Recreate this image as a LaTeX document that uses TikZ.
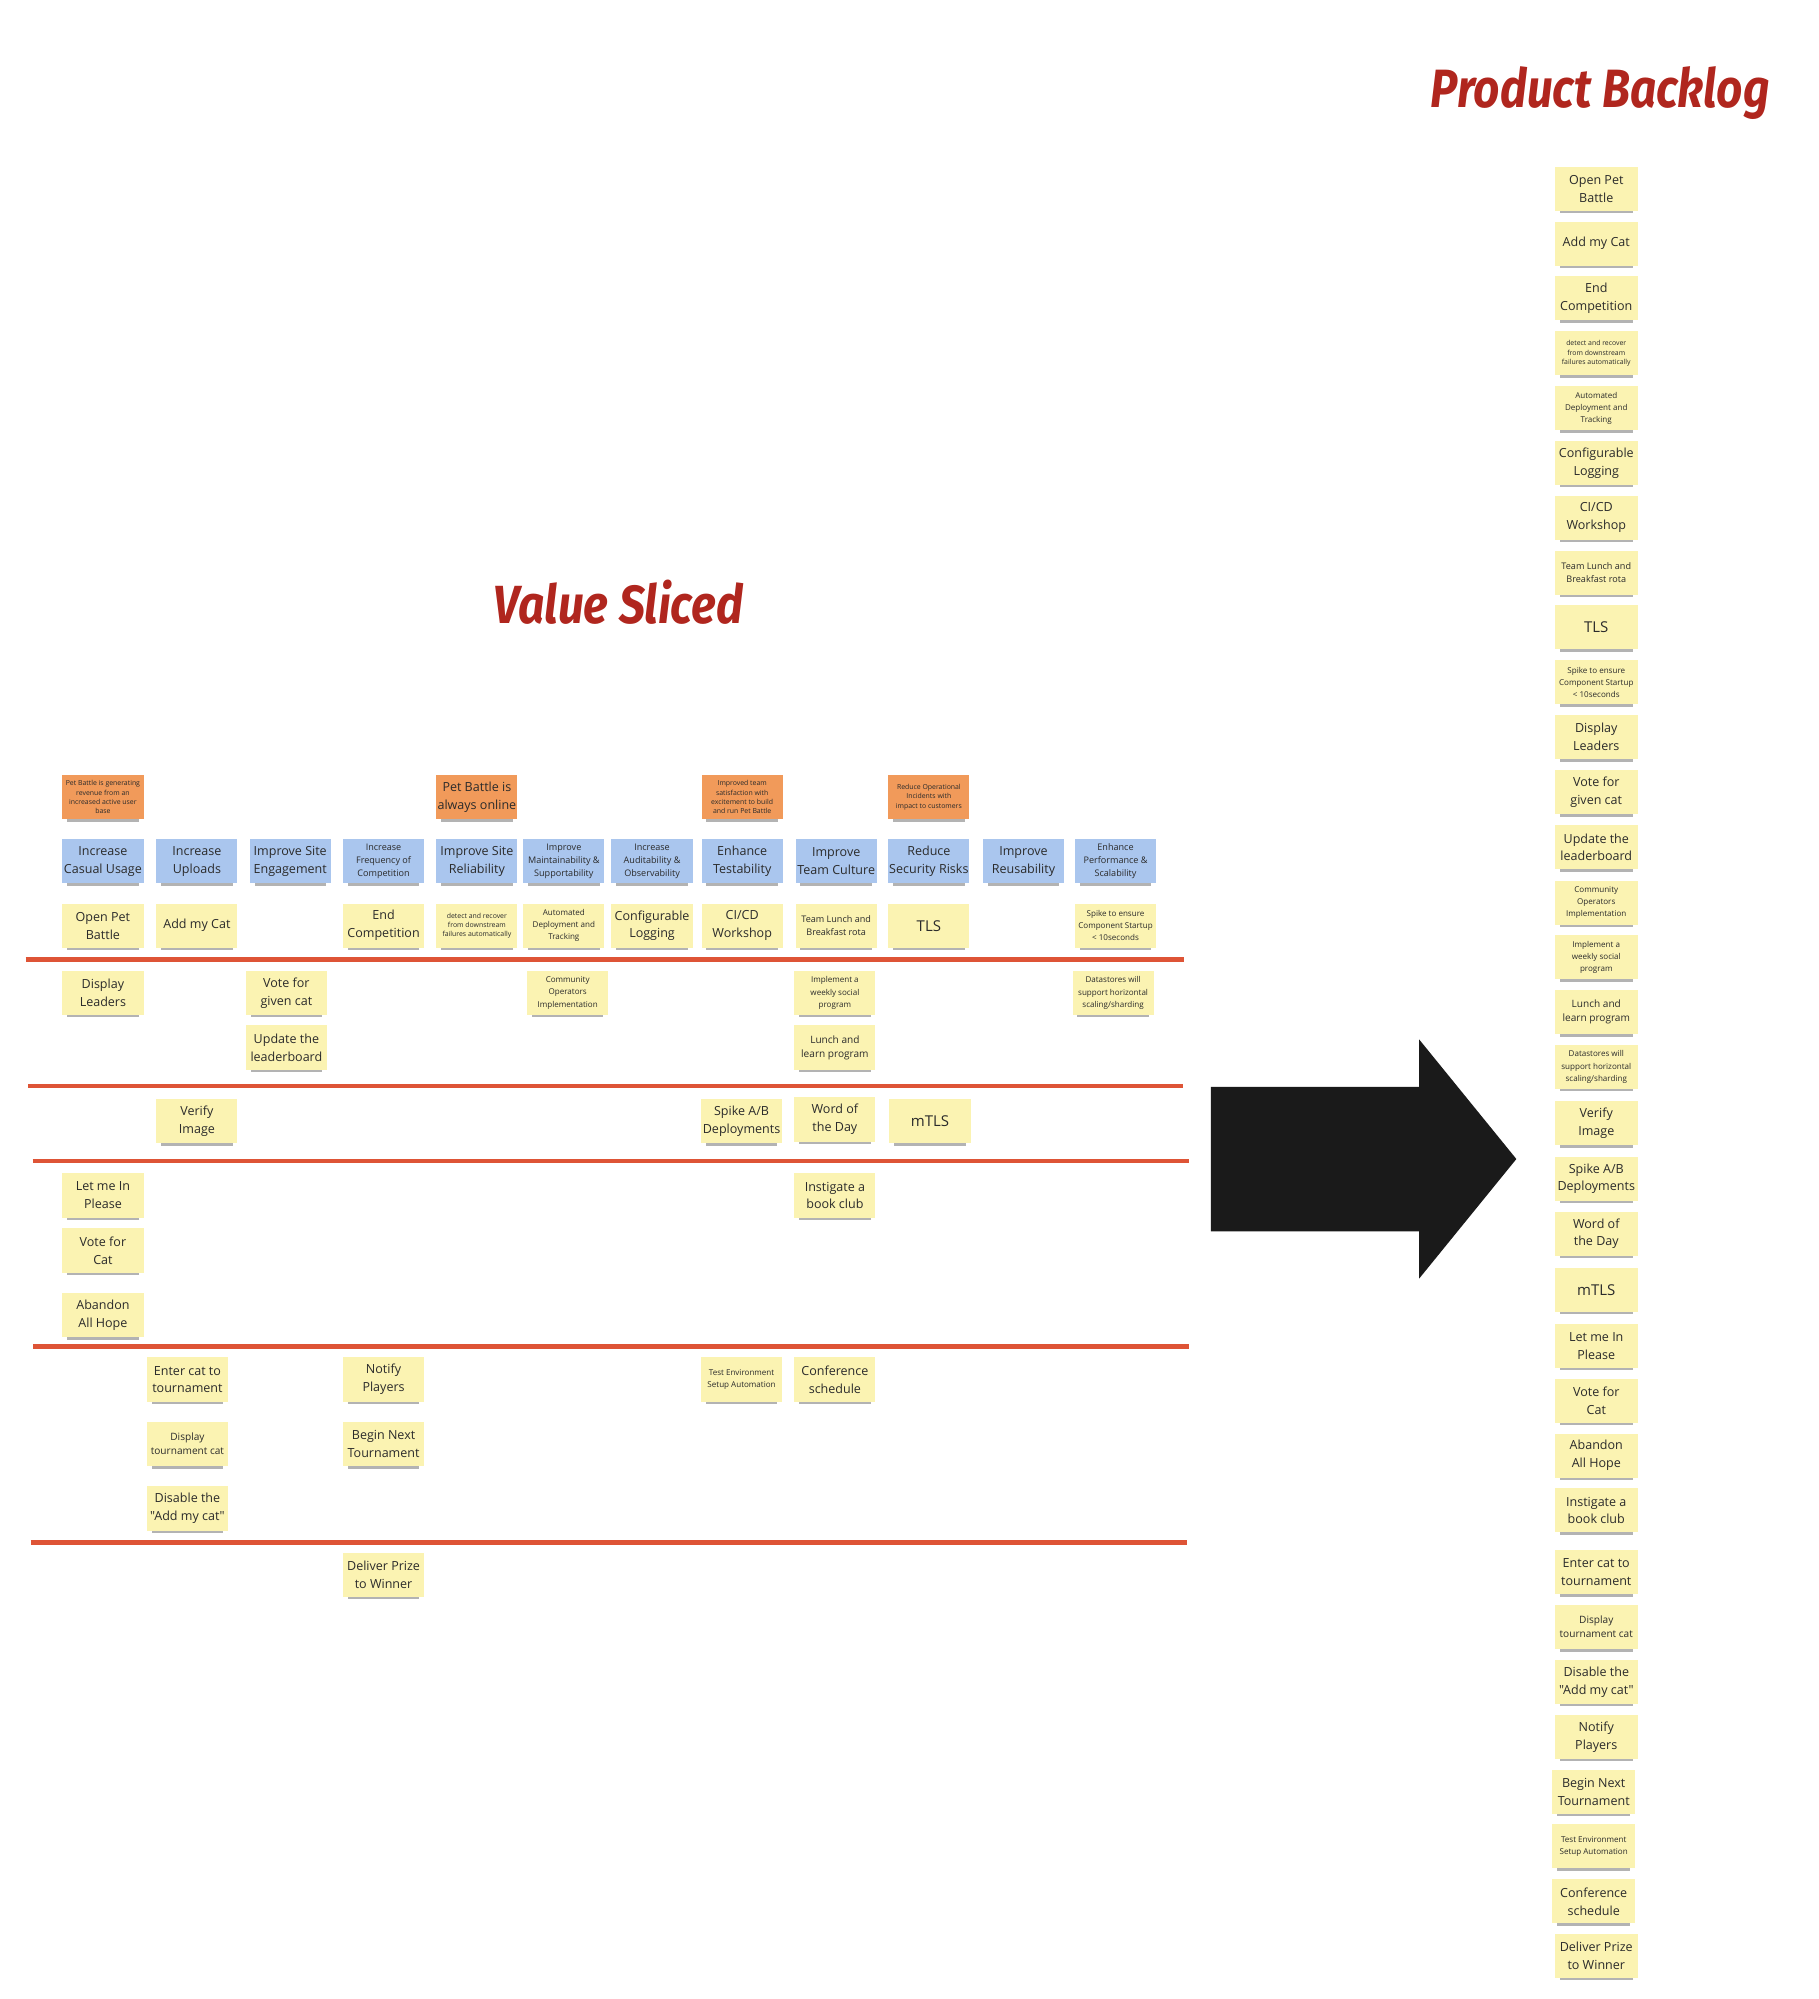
\documentclass[tikz,border=0pt]{standalone}
\usepackage{fontspec}
\setmainfont{Open Sans}[Ligatures=TeXOff]
\newfontfamily\titlefont{Fira Sans}
\usepackage{graphicx}
\usetikzlibrary{shadows}

\definecolor{noteyellow}{HTML}{FBF3B2}
\definecolor{noteblue}{HTML}{AAC6EE}
\definecolor{noteorange}{HTML}{F19A5A}
\definecolor{slicered}{HTML}{DE5436}
\definecolor{titlered}{HTML}{B0261E}
\definecolor{notetext}{HTML}{2B2B2B}
\definecolor{arrowblack}{HTML}{1A1A1A}

\newcommand\fhuge{\fontsize{11.7}{15}\selectfont}
\newcommand\fbig{\fontsize{9.8}{14}\selectfont}
\newcommand\fmed{\fontsize{7.9}{11}\selectfont}
\newcommand\fmid{\fontsize{7.1}{10}\selectfont}
\newcommand\fsma{\fontsize{6.3}{9.5}\selectfont}
\newcommand\ftiny{\fontsize{5.4}{7.4}\selectfont}

\tikzset{
  sticky/.style={minimum width=63.5pt, minimum height=34.6pt, inner sep=0pt,
    align=center, text=notetext, font=\fbig,
    drop shadow={shadow xshift=0pt, shadow yshift=-4.5pt, shadow scale=0.88,
      fill=black!75, opacity=0.4}},
  goalnote/.style={sticky, fill=noteorange},
  themenote/.style={sticky, fill=noteblue},
  itemnote/.style={sticky, fill=noteyellow},
  backnote/.style={itemnote, minimum width=64.5pt, minimum height=34.4pt},
  txhuge/.style={font=\fhuge},
  txmed/.style={font=\fmed},
  txmid/.style={font=\fmid},
  txsma/.style={font=\fsma},
  txtiny/.style={font=\ftiny},
  sliceline/.style={draw=slicered, line width=3.6pt},
  titletext/.style={text=titlered, font=\titlefont\bfseries\itshape,
    inner sep=0pt, anchor=base},
}

\begin{document}
\begin{tikzpicture}[x=1pt, y=-1pt]
  \useasboundingbox (0,0) rectangle (1422,1563.5);

  % titles
  \node[titletext] (vstitle) at (483.6,487.5) {\resizebox{195pt}{34pt}{Value Sliced}};
  \node[titletext] (pbtitle) at (1251.7,84.4) {\resizebox{265pt}{32pt}{Product Backlog}};

  % goals
  \node[goalnote, txtiny] (g1) at (80.5,623.5) {Pet Battle is generating\\revenue from an\\increased active user\\base};
  \node[goalnote] (g2) at (373,623.5) {Pet Battle is\\always online};
  \node[goalnote, txtiny] (g3) at (580.5,623.5) {Improved team\\satisfaction with\\excitement to build\\and run Pet Battle};
  \node[goalnote, txtiny] (g4) at (726.5,623.5) {Reduce Operational\\Incidents with\\impact to customers};

  % themes
  \node[themenote] (t1) at (80.5,673.5) {Increase\\Casual Usage};
  \node[themenote] (t2) at (154,673.5) {Increase\\Uploads};
  \node[themenote] (t3) at (227,673.5) {Improve Site\\Engagement};
  \node[themenote, txmid] (t4) at (300,673.5) {Increase\\Frequency of\\Competition};
  \node[themenote] (t5) at (373,673.5) {Improve Site\\Reliability};
  \node[themenote, txmid] (t6) at (441,673.5) {Improve\\Maintainability \&\\Supportability};
  \node[themenote, txmid] (t7) at (510,673.5) {Increase\\Auditability \&\\Observability};
  \node[themenote] (t8) at (580.5,673.5) {Enhance\\Testability};
  \node[themenote] (t9) at (654,673.5) {Improve\\Team Culture};
  \node[themenote] (t10) at (726.5,673.5) {Reduce\\Security Risks};
  \node[themenote] (t11) at (800.5,673.5) {Improve\\Reusability};
  \node[themenote, txmid] (t12) at (872.5,673.5) {Enhance\\Performance \&\\Scalability};

  % first slice
  \node[itemnote] (i1) at (80.5,724) {Open Pet\\Battle};
  \node[itemnote] (i2) at (154,724) {Add my Cat};
  \node[itemnote] (i3) at (300,724) {End\\Competition};
  \node[itemnote, txtiny] (i4) at (373,724) {detect and recover\\from downstream\\failures automatically};
  \node[itemnote, txsma] (i5) at (441,724) {Automated\\Deployment and\\Tracking};
  \node[itemnote] (i6) at (510,724) {Configurable\\Logging};
  \node[itemnote] (i7) at (580.5,724) {CI/CD\\Workshop};
  \node[itemnote, txmid] (i8) at (654,724) {Team Lunch and\\Breakfast rota};
  \node[itemnote, txhuge] (i9) at (726.5,724) {TLS};
  \node[itemnote, txsma] (i10) at (872.5,724) {Spike to ensure\\Component Startup\\< 10seconds};

  \draw[sliceline] (20,750.4) -- (925.7,750.4);

  % second slice
  \node[itemnote] (i11) at (80.5,776.6) {Display\\Leaders};
  \node[itemnote] (i12) at (224,776.6) {Vote for\\given cat};
  \node[itemnote, txsma] (i13) at (444,776.6) {Community\\Operators\\Implementation};
  \node[itemnote, txsma] (i14) at (653,776.6) {Implement a\\weekly social\\program};
  \node[itemnote, txsma] (i15) at (870.6,776.6) {Datastores will\\support horizontal\\scaling/sharding};
  \node[itemnote] (i16) at (224,819.3) {Update the\\leaderboard};
  \node[itemnote, txmed] (i17) at (653,819.3) {Lunch and\\learn program};

  \draw[sliceline] (22,849.5) -- (925,849.5);

  % third slice
  \node[itemnote] (i18) at (154,877) {Verify\\Image};
  \node[itemnote] (i19) at (580,877) {Spike A/B\\Deployments};
  \node[itemnote] (i20) at (653,875.6) {Word of\\the Day};
  \node[itemnote, txhuge] (i21) at (727.4,877) {mTLS};

  \draw[sliceline] (25.6,908) -- (930,908);

  % fourth slice
  \node[itemnote] (i22) at (80.5,935) {Let me In\\Please};
  \node[itemnote] (i23) at (653,935) {Instigate a\\book club};
  \node[itemnote] (i24) at (80.5,978) {Vote for\\Cat};
  \node[itemnote] (i25) at (80.5,1028.5) {Abandon\\All Hope};

  \draw[sliceline] (26,1053.3) -- (930,1053.3);

  % fifth slice
  \node[itemnote] (i26) at (146.6,1079) {Enter cat to\\tournament};
  \node[itemnote] (i27) at (300,1079) {Notify\\Players};
  \node[itemnote, txsma] (i28) at (580,1079) {Test Environment\\Setup Automation};
  \node[itemnote] (i29) at (653,1079) {Conference\\schedule};
  \node[itemnote, txmed] (i30) at (146.6,1129.5) {Display\\tournament cat};
  \node[itemnote] (i31) at (300,1129.5) {Begin Next\\Tournament};
  \node[itemnote] (i32) at (146.6,1179.8) {Disable the\\"Add my cat"};

  \draw[sliceline] (24,1206.6) -- (928,1206.6);

  \node[itemnote] (i33) at (300,1231.7) {Deliver Prize\\to Winner};

  % big arrow
  \fill[arrowblack] (947,850) -- (1110,850) -- (1110,813) -- (1186,906.5)
    -- (1110,1000) -- (1110,963) -- (947,963) -- cycle;

  % product backlog
  \node[backnote] (b1) at (1248.5,147.6) {Open Pet\\Battle};
  \node[backnote] (b2) at (1248.5,190.5) {Add my Cat};
  \node[backnote] (b3) at (1248.5,233.4) {End\\Competition};
  \node[backnote, txtiny] (b4) at (1248.5,276.3) {detect and recover\\from downstream\\failures automatically};
  \node[backnote, txsma] (b5) at (1248.5,319.2) {Automated\\Deployment and\\Tracking};
  \node[backnote] (b6) at (1248.5,362.1) {Configurable\\Logging};
  \node[backnote] (b7) at (1248.5,405) {CI/CD\\Workshop};
  \node[backnote, txmid] (b8) at (1248.5,447.9) {Team Lunch and\\Breakfast rota};
  \node[backnote, txhuge] (b9) at (1248.5,490.6) {TLS};
  \node[backnote, txsma] (b10) at (1248.5,533.7) {Spike to ensure\\Component Startup\\< 10seconds};
  \node[backnote] (b11) at (1248.5,576.6) {Display\\Leaders};
  \node[backnote] (b12) at (1248.5,619.7) {Vote for\\given cat};
  \node[backnote] (b13) at (1248.5,662.7) {Update the\\leaderboard};
  \node[backnote, txsma] (b14) at (1248.5,705.9) {Community\\Operators\\Implementation};
  \node[backnote, txsma] (b15) at (1248.5,748.8) {Implement a\\weekly social\\program};
  \node[backnote, txmed] (b16) at (1248.5,791.6) {Lunch and\\learn program};
  \node[backnote, txsma] (b17) at (1248.5,834.5) {Datastores will\\support horizontal\\scaling/sharding};
  \node[backnote] (b18) at (1248.5,878.5) {Verify\\Image};
  \node[backnote] (b19) at (1248.5,921.9) {Spike A/B\\Deployments};
  \node[backnote] (b20) at (1248.5,964.9) {Word of\\the Day};
  \node[backnote, txhuge] (b21) at (1248.5,1008.7) {mTLS};
  \node[backnote] (b22) at (1248.5,1052.6) {Let me In\\Please};
  \node[backnote] (b23) at (1248.5,1095.4) {Vote for\\Cat};
  \node[backnote] (b24) at (1248.5,1138.4) {Abandon\\All Hope};
  \node[backnote] (b25) at (1248.5,1181.4) {Instigate a\\book club};
  \node[backnote] (b26) at (1248.5,1229.7) {Enter cat to\\tournament};
  \node[backnote, txmed] (b27) at (1248.5,1272.6) {Display\\tournament cat};
  \node[backnote] (b28) at (1248.5,1315.5) {Disable the\\"Add my cat"};
  \node[backnote] (b29) at (1248.5,1358.5) {Notify\\Players};
  \node[backnote] (b30) at (1246.5,1401.2) {Begin Next\\Tournament};
  \node[backnote, txsma] (b31) at (1246.5,1444.1) {Test Environment\\Setup Automation};
  \node[backnote] (b32) at (1246.5,1487.2) {Conference\\schedule};
  \node[backnote] (b33) at (1248.5,1529.8) {Deliver Prize\\to Winner};
\end{tikzpicture}
\end{document}
